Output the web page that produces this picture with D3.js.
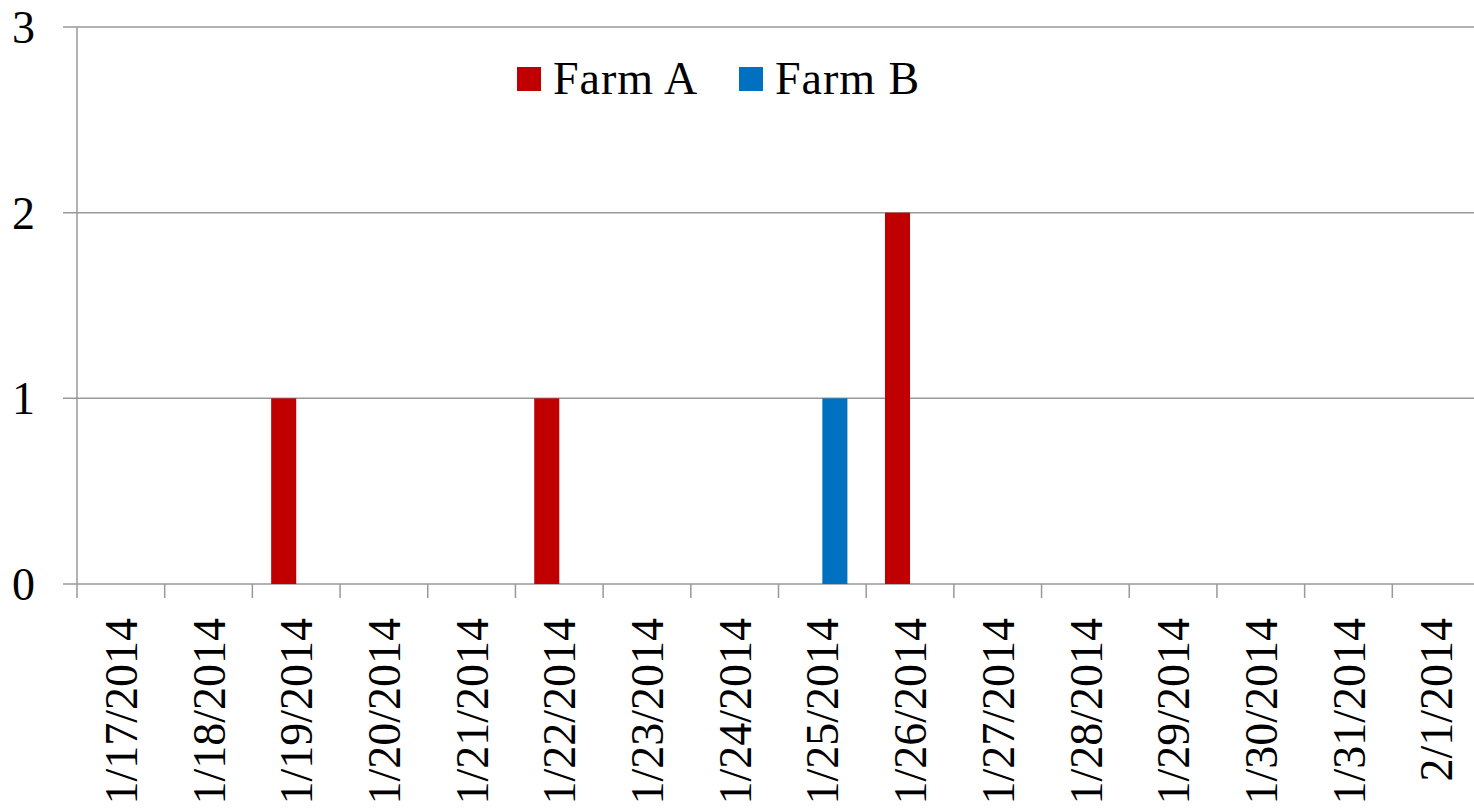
<!DOCTYPE html>
<html>
<head>
<meta charset="utf-8">
<script src="https://cdn.jsdelivr.net/npm/d3@7"></script>
<style>
  html, body { margin: 0; padding: 0; background: #fff; }
  svg { display: block; }
</style>
</head>
<body>
<svg id="chart" width="1474" height="809"></svg>
<script>
// Daily counts per farm
const dates = ["1/17/2014","1/18/2014","1/19/2014","1/20/2014","1/21/2014","1/22/2014","1/23/2014","1/24/2014",
               "1/25/2014","1/26/2014","1/27/2014","1/28/2014","1/29/2014","1/30/2014","1/31/2014","2/1/2014"];
const farmA = [0,0,1,0,0,1,0,0,0,2,0,0,0,0,0,0];
const farmB = [0,0,0,0,0,0,0,0,1,0,0,0,0,0,0,0];
const seriesNames = ["Farm A", "Farm B"];
const seriesColors = ["#C00000", "#0070C0"];
const yTicks = [0, 1, 2, 3];

const FONT = "Liberation Serif";

const svg = d3.select("#chart").attr("font-family", FONT);
const W = 1474, H = 809;
const plotLeft = 77, plotTop = 27, plotBottom = 584;

const x = d3.scaleBand().domain(dates).range([plotLeft, 1480]).paddingInner(0).paddingOuter(0);
const y = d3.scaleLinear().domain([0, 3]).range([plotBottom, plotTop]);

// Two bars per day, gap width 150% of a bar
const xs = d3.scaleBand().domain(seriesNames).range([0, x.bandwidth()]).paddingInner(0).paddingOuter(0.75);

const grid = "#999999";

// Horizontal gridlines (with left tick stubs)
svg.append("g").selectAll("line").data(yTicks).join("line")
  .attr("x1", 63).attr("x2", W)
  .attr("y1", d => y(d)).attr("y2", d => y(d))
  .attr("stroke", grid).attr("stroke-width", 1.5);

// Y axis line
svg.append("line").attr("x1", plotLeft).attr("x2", plotLeft).attr("y1", plotTop).attr("y2", plotBottom)
  .attr("stroke", grid).attr("stroke-width", 1.5);

// Y tick labels
svg.append("g").selectAll("text").data(yTicks).join("text")
  .attr("x", 35).attr("y", d => y(d)).attr("dy", "0.35em")
  .attr("text-anchor", "end").attr("font-size", 46).attr("font-family", FONT).attr("fill", "#000")
  .text(d => d);

// X tick marks at category boundaries
const bounds = dates.map(d => x(d));
svg.append("g").selectAll("line").data(bounds).join("line")
  .attr("x1", d => d).attr("x2", d => d)
  .attr("y1", plotBottom).attr("y2", plotBottom + 14)
  .attr("stroke", grid).attr("stroke-width", 1.5);

// Bars
const rows = dates.map((d, i) => ({ date: d, values: [farmA[i], farmB[i]] }));
const groups = svg.append("g").selectAll("g").data(rows).join("g")
  .attr("transform", d => `translate(${x(d.date)},0)`);
groups.selectAll("rect")
  .data(d => d.values.map((v, j) => ({ name: seriesNames[j], value: v, color: seriesColors[j] })).filter(e => e.value > 0))
  .join("rect")
  .attr("x", e => xs(e.name))
  .attr("width", xs.bandwidth())
  .attr("y", e => y(e.value))
  .attr("height", e => y(0) - y(e.value))
  .attr("fill", e => e.color);

// X labels, rotated
svg.append("g").selectAll("text").data(dates).join("text")
  .attr("transform", d => `translate(${x(d) + x.bandwidth() / 2},618) rotate(-90)`)
  .attr("dy", "0.35em")
  .attr("text-anchor", "end").attr("font-size", 46).attr("font-family", FONT).attr("fill", "#000")
  .text(d => d);

// Legend
const legend = [
  { name: seriesNames[0], color: seriesColors[0], x: 517 },
  { name: seriesNames[1], color: seriesColors[1], x: 739 }
];
const lg = svg.append("g").selectAll("g").data(legend).join("g")
  .attr("transform", d => `translate(${d.x},67)`);
lg.append("rect").attr("width", 24).attr("height", 24).attr("fill", d => d.color);
lg.append("text").attr("x", 36).attr("y", 27).attr("font-size", 46).attr("font-family", FONT)
  .attr("letter-spacing", 1).attr("fill", "#000")
  .text(d => d.name);
</script>
</body>
</html>
